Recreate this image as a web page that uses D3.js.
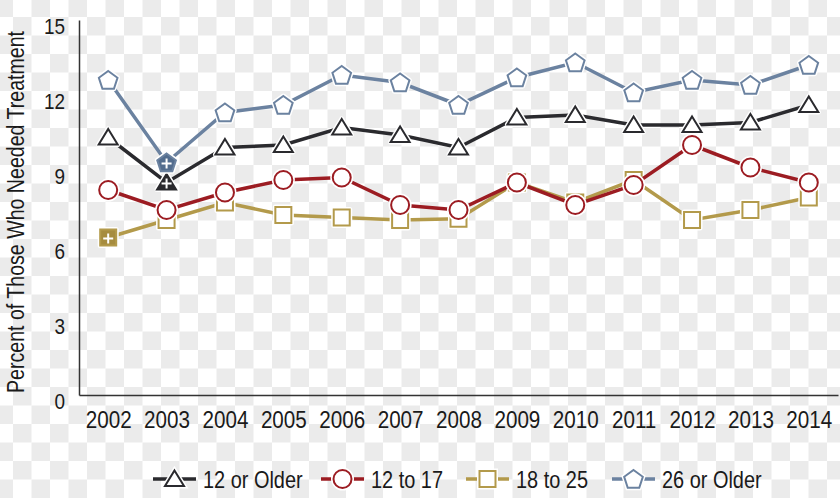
<!DOCTYPE html>
<html>
<head>
<meta charset="utf-8">
<script src="https://cdn.jsdelivr.net/npm/d3@7"></script>
<style>
  body { margin: 0; background: #fff; }
  svg { display: block; }
  text { font-family: "Liberation Sans", Arial, sans-serif; fill: #1a1a1a; }
</style>
</head>
<body>
<svg id="chart"></svg>
<script>

var years = ["2002","2003","2004","2005","2006","2007","2008","2009","2010","2011","2012","2013","2014"]
var yTicks = [0, 3, 6, 9, 12, 15]

var older12 = [10.3, 8.5, 9.9, 10.0, 10.7, 10.4, 9.9, 11.1, 11.2, 10.8, 10.8, 10.9, 11.6]
var age12to17 = [8.2, 7.4, 8.1, 8.6, 8.7, 7.6, 7.4, 8.5, 7.6, 8.4, 10.0, 9.1, 8.5]
var age18to25 = [6.3, 7.0, 7.7, 7.2, 7.1, 7.0, 7.05, 8.5, 7.7, 8.6, 7.0, 7.4, 7.9]
var older26 = [12.6, 9.3, 11.3, 11.6, 12.8, 12.5, 11.6, 12.7, 13.3, 12.1, 12.6, 12.4, 13.2]

// years flagged with a "+" (filled marker)
var flagged12 = ["2003"]
var flagged18 = ["2002"]
var flagged26 = ["2003"]

var seriesNames = ["12 or Older", "12 to 17", "18 to 25", "26 or Older"]

var width = 840
var height = 498

var svg = d3.select("#chart")
    .attr("width", width)
    .attr("height", height)

// light checkerboard behind everything, as in the picture
var cell = 18.5
var bg = svg.append("g")
for (var r = 0; r * cell < height + cell; r++) {
    for (var c = 0; c * cell < width + cell; c++) {
        if ((r + c) % 2 == 0) {
            bg.append("rect")
                .attr("x", -5.5 + c * cell)
                .attr("y", -1.5 + r * cell)
                .attr("width", cell)
                .attr("height", cell)
                .attr("fill", "#ebebeb")
        }
    }
}

var xScale = d3.scalePoint()
    .domain(years)
    .range([79, 838])
    .padding(0.5)

var yScale = d3.scaleLinear()
    .domain([0, 15])
    .range([395, 20])

var x_axis = d3.axisBottom(xScale)
    .tickSize(0)
    .tickSizeOuter(0)
    .tickPadding(16)

var y_axis = d3.axisLeft(yScale)
    .tickValues(yTicks)
    .tickSize(0)
    .tickSizeOuter(0)
    .tickPadding(14)

// squeeze text horizontally to look like a condensed face
function narrow(sel, f) {
    sel.each(function() {
        var w = this.getComputedTextLength()
        d3.select(this)
            .attr("textLength", w * f)
            .attr("lengthAdjust", "spacingAndGlyphs")
    })
}

var gx = svg.append("g")
    .attr("id", "xaxis")
    .attr("transform", "translate(0,395)")
    .call(x_axis)
gx.select(".domain").attr("stroke", "#333").attr("stroke-width", 1.5)
gx.selectAll("text")
    .style("font-size", "24px")
    .style("font-family", "'Liberation Sans', Arial, sans-serif")
    .attr("fill", "#1a1a1a")
    .call(narrow, 0.86)

var gy = svg.append("g")
    .attr("id", "yaxis")
    .attr("transform", "translate(79,0)")
    .call(y_axis)
gy.select(".domain").attr("stroke", "#333").attr("stroke-width", 1.5)
gy.selectAll("text")
    .style("font-size", "22px")
    .style("font-family", "'Liberation Sans', Arial, sans-serif")
    .attr("fill", "#1a1a1a")
    .attr("dy", "0.6em")
    .call(narrow, 0.86)

svg.append("text")
    .attr("transform", "translate(24,212) rotate(-90)")
    .attr("text-anchor", "middle")
    .style("font-size", "23px")
    .attr("textLength", 362)
    .attr("lengthAdjust", "spacingAndGlyphs")
    .text("Percent of Those Who Needed Treatment")

// marker shapes
function markerPath(shape) {
    if (shape == "triangle") return "M0,-8.5L9.5,7L-9.5,7Z"
    if (shape == "square") return "M-8,-8L8,-8L8,8L-8,8Z"
    if (shape == "circle") return "M9,0A9,9 0 1,1 -9,0A9,9 0 1,1 9,0Z"
    // pentagon
    var pts = []
    for (var k = 0; k < 5; k++) {
        var a = -Math.PI / 2 + k * 2 * Math.PI / 5
        pts.push([9.8 * Math.cos(a), 9.8 * Math.sin(a) + 0.8])
    }
    return "M" + pts.join("L") + "Z"
}

var series = [
    { name: seriesNames[2], values: age18to25, color: "#b39a4b", fillColor: "#a68c3f", shape: "square", flagged: flagged18 },
    { name: seriesNames[1], values: age12to17, color: "#9c1c22", fillColor: "#9c1c22", shape: "circle", flagged: [] },
    { name: seriesNames[0], values: older12, color: "#2a2a2e", fillColor: "#2a2a2e", shape: "triangle", flagged: flagged12 },
    { name: seriesNames[3], values: older26, color: "#6b82a0", fillColor: "#536d8e", shape: "pentagon", flagged: flagged26 }
]

var line = d3.line()
    .x(function(d, i) { return xScale(years[i]) })
    .y(function(d) { return yScale(d) })

series.forEach(function(s) {
    var g = svg.append("g")

    g.append("path")
        .datum(s.values)
        .attr("d", line)
        .attr("fill", "none")
        .attr("stroke", s.color)
        .attr("stroke-width", 3.5)

    var m = g.selectAll(".mk")
        .data(s.values)
        .enter()
        .append("g")
        .attr("transform", function(d, i) { return "translate(" + xScale(years[i]) + "," + yScale(d) + ")" })

    // white halo
    m.append("path")
        .attr("d", markerPath(s.shape))
        .attr("fill", "#fff")
        .attr("stroke", "#fff")
        .attr("stroke-width", 5)
        .attr("stroke-linejoin", "round")

    m.append("path")
        .attr("d", markerPath(s.shape))
        .attr("fill", function(d, i) { return s.flagged.indexOf(years[i]) >= 0 ? s.fillColor : "#fff" })
        .attr("stroke", s.color)
        .attr("stroke-width", 2)

    m.filter(function(d, i) { return s.flagged.indexOf(years[i]) >= 0 })
        .append("path")
        .attr("d", "M-5,1L5,1M0,-4L0,6")
        .attr("stroke", "#fff")
        .attr("stroke-width", 2)
})

// legend
var legendItems = [
    { name: seriesNames[0], color: "#2a2a2e", shape: "triangle", x: 153 },
    { name: seriesNames[1], color: "#9c1c22", shape: "circle", x: 321 },
    { name: seriesNames[2], color: "#b39a4b", shape: "square", x: 466 },
    { name: seriesNames[3], color: "#6b82a0", shape: "pentagon", x: 612 }
]

var lg = svg.append("g").attr("transform", "translate(0,479)")
legendItems.forEach(function(it) {
    var g = lg.append("g").attr("transform", "translate(" + it.x + ",0)")
    g.append("line")
        .attr("x1", 0).attr("x2", 43)
        .attr("y1", 0).attr("y2", 0)
        .attr("stroke", it.color)
        .attr("stroke-width", 3.5)
    g.append("path")
        .attr("d", markerPath(it.shape))
        .attr("transform", "translate(21.5,0)")
        .attr("fill", "#fff")
        .attr("stroke", "#fff")
        .attr("stroke-width", 5)
    g.append("path")
        .attr("d", markerPath(it.shape))
        .attr("transform", "translate(21.5,0)")
        .attr("fill", "#fff")
        .attr("stroke", it.color)
        .attr("stroke-width", 2)
    g.append("text")
        .attr("x", 50)
        .attr("y", 8.5)
        .style("font-size", "24px")
        .text(it.name)
        .call(narrow, 0.83)
})

</script>
</body>
</html>
